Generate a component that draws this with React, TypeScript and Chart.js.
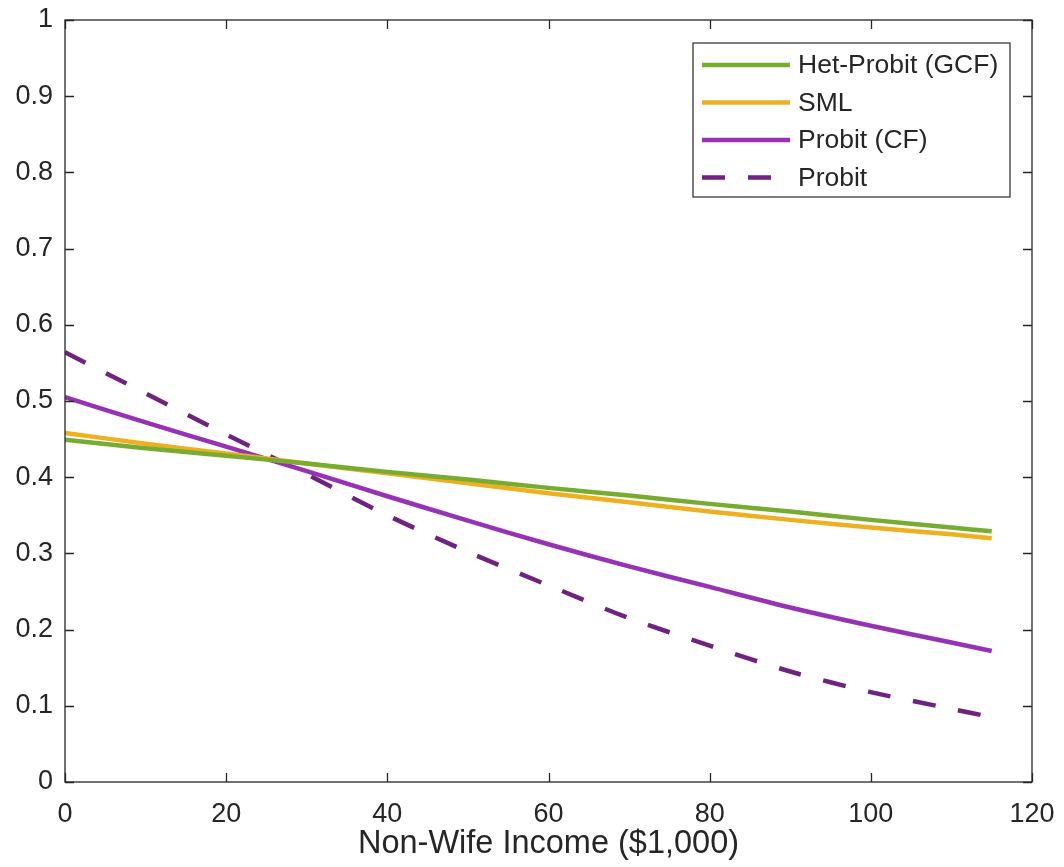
import React, { useEffect, useRef } from "react";
import { Chart, registerables } from "chart.js";

Chart.register(...registerables);

// ---- data ----
const xValues = [0, 10, 20, 30, 40, 50, 60, 70, 80, 90, 100, 110, 115];
const hetProbitGCF = [0.449, 0.438, 0.428, 0.418, 0.407, 0.397, 0.386, 0.376, 0.365, 0.355, 0.344, 0.334, 0.329];
const smlValues = [0.458, 0.444, 0.431, 0.418, 0.405, 0.392, 0.379, 0.367, 0.355, 0.344, 0.334, 0.325, 0.32];
const probitCF = [0.505, 0.472, 0.44, 0.408, 0.375, 0.343, 0.312, 0.283, 0.256, 0.229, 0.205, 0.183, 0.172];
const probitValues = [0.564, 0.51, 0.456, 0.404, 0.35, 0.302, 0.258, 0.215, 0.179, 0.145, 0.118, 0.096, 0.085];
const seriesLabels = ["Het-Probit (GCF)", "SML", "Probit (CF)", "Probit"];
const xTicks = [0, 20, 40, 60, 80, 100, 120];
const yTicks = [0, 0.1, 0.2, 0.3, 0.4, 0.5, 0.6, 0.7, 0.8, 0.9, 1];
const xTitle = "Non-Wife Income ($1,000)";

const FONT = "'Liberation Sans', Arial, Helvetica, sans-serif";
const AXIS = "#262626";
const COLORS = ["#77AC30", "#EDB120", "#9633B4", "#6E2380"];
const DASHES: number[][] = [[], [], [], [23, 23]];

const framePlugin = {
  id: "frame",
  afterDatasetsDraw(chart: any) {
    const { ctx, chartArea, scales } = chart;
    const { left, right, top, bottom } = chartArea;
    const x = scales.x;
    const y = scales.y;
    ctx.save();
    ctx.strokeStyle = AXIS;
    ctx.lineWidth = 1.3;
    ctx.setLineDash([]);
    ctx.strokeRect(left, top, right - left, bottom - top);
    const tl = 9;
    ctx.beginPath();
    for (const v of xTicks) {
      const px = Math.round(x.getPixelForValue(v)) + 0.5;
      ctx.moveTo(px, bottom);
      ctx.lineTo(px, bottom - tl);
      ctx.moveTo(px, top);
      ctx.lineTo(px, top + tl);
    }
    for (const v of yTicks) {
      const py = Math.round(y.getPixelForValue(v)) + 0.5;
      ctx.moveTo(left, py);
      ctx.lineTo(left + tl, py);
      ctx.moveTo(right, py);
      ctx.lineTo(right - tl, py);
    }
    ctx.stroke();
    ctx.restore();
  },
};

const legendPlugin = {
  id: "insideLegend",
  afterDraw(chart: any) {
    const { ctx, chartArea } = chart;
    const boxRight = chartArea.right - 22;
    const boxTop = chartArea.top + 23;
    const boxW = 317;
    const boxH = 154;
    const boxLeft = boxRight - boxW;
    ctx.save();
    ctx.fillStyle = "#ffffff";
    ctx.fillRect(boxLeft, boxTop, boxW, boxH);
    ctx.strokeStyle = AXIS;
    ctx.lineWidth = 1.2;
    ctx.setLineDash([]);
    ctx.strokeRect(boxLeft, boxTop, boxW, boxH);
    const rowGap = 37.5;
    const firstRow = boxTop + 22;
    chart.data.datasets.forEach((ds: any, i: number) => {
      const cy = firstRow + i * rowGap;
      ctx.beginPath();
      ctx.strokeStyle = ds.borderColor;
      ctx.lineWidth = ds.borderWidth;
      ctx.lineCap = "butt";
      ctx.setLineDash(ds.borderDash || []);
      ctx.moveTo(boxLeft + 9, cy);
      ctx.lineTo(boxLeft + 97, cy);
      ctx.stroke();
      ctx.setLineDash([]);
      ctx.fillStyle = AXIS;
      ctx.font = `26.5px ${FONT}`;
      ctx.textAlign = "left";
      ctx.textBaseline = "middle";
      ctx.fillText(ds.label, boxLeft + 105, cy + 1);
    });
    ctx.restore();
  },
};

const zeroPadding = (scale: any) => {
  scale.paddingTop = 0;
  scale.paddingBottom = 0;
  scale.paddingLeft = 0;
  scale.paddingRight = 0;
};

export default function App() {
  const canvasRef = useRef<HTMLCanvasElement | null>(null);

  useEffect(() => {
    if (!canvasRef.current) return;
    const seriesValues = [hetProbitGCF, smlValues, probitCF, probitValues];
    const chart = new Chart(canvasRef.current, {
      type: "line",
      data: {
        datasets: seriesValues.map((vals, i) => ({
          label: seriesLabels[i],
          data: xValues.map((xv, j) => ({ x: xv, y: vals[j] })),
          borderColor: COLORS[i],
          backgroundColor: COLORS[i],
          borderWidth: 4.5,
          borderDash: DASHES[i],
          pointRadius: 0,
          tension: 0.3,
          fill: false,
          borderCapStyle: "butt",
          borderJoinStyle: "round",
        })),
      },
      options: {
        responsive: false,
        animation: false,
        layout: { padding: { left: 0, top: 20, right: 32, bottom: 0 } },
        plugins: {
          legend: { display: false },
          tooltip: { enabled: false },
        },
        scales: {
          x: {
            type: "linear",
            min: 0,
            max: 120,
            afterBuildTicks: (scale: any) => {
              scale.ticks = xTicks.map((v) => ({ value: v }));
            },
            afterFit: (scale: any) => {
              scale.height = 85;
              zeroPadding(scale);
            },
            grid: { display: false, drawTicks: false },
            border: { display: false },
            ticks: {
              color: AXIS,
              font: { family: FONT, size: 27 },
              padding: 16,
              maxRotation: 0,
              autoSkip: false,
            },
            title: {
              display: true,
              text: xTitle,
              color: AXIS,
              font: { family: FONT, size: 32.5 },
              padding: { top: 0, bottom: 3 },
            },
          },
          y: {
            type: "linear",
            min: 0,
            max: 1,
            afterBuildTicks: (scale: any) => {
              scale.ticks = yTicks.map((v) => ({ value: v }));
            },
            afterFit: (scale: any) => {
              scale.width = 65;
              zeroPadding(scale);
            },
            grid: { display: false, drawTicks: false },
            border: { display: false },
            ticks: {
              color: AXIS,
              font: { family: FONT, size: 27 },
              padding: 12,
              autoSkip: false,
              callback: (v: any) => String(Math.round(Number(v) * 10) / 10),
            },
          },
        },
      },
      plugins: [framePlugin, legendPlugin],
    });
    return () => chart.destroy();
  }, []);

  return (
    <div style={{ position: "fixed", left: 0, top: 0, width: 1064, height: 867, background: "#fff" }}>
      <canvas ref={canvasRef} width={1064} height={867} style={{ display: "block" }} />
    </div>
  );
}
